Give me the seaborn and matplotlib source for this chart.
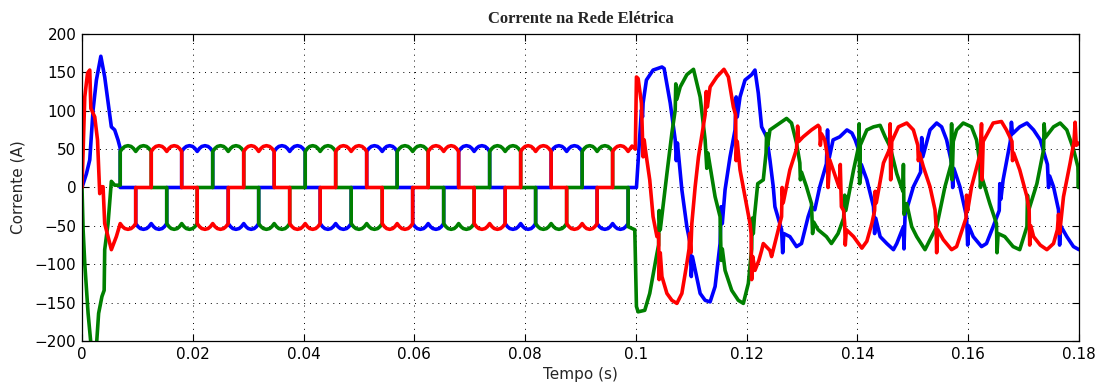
import matplotlib
matplotlib.use("Agg")
import matplotlib.pyplot as plt
import matplotlib.ticker as mticker
import numpy as np
import pandas as pd
import seaborn as sns

# ---------------- data (time in ms, current in A) ----------------
# start-up transient
B_START = [(0, 0), (0.8, 18), (1.4, 36), (2.0, 101), (2.6, 140), (3.4, 171), (4.1, 144),
           (5.3, 79), (5.9, 75), (6.5, 62), (6.9, 51)]
G_START = [(0, 0), (0.2, -55), (0.5, -99), (1.1, -164), (1.6, -203), (2.0, -215), (2.6, -207),
           (3.0, -164), (3.6, -142), (4.0, -134), (4.1, -81), (4.7, -47), (5.3, 8), (5.9, 3), (6.9, 3)]
R_START = [(0, 0), (0.5, 118), (1.0, 149), (1.4, 153), (1.6, 103), (2.3, 92), (2.8, 62), (3.2, -8),
           (3.5, 1), (3.8, 1), (4.1, -47), (5.3, -81), (6.2, -64), (6.9, -47)]

# six-step steady state: commutation instants and level of each phase per 60-degree interval
EDGES = [6.9, 9.7, 12.5, 15.3, 18.0, 20.8, 23.6, 26.4, 29.2, 31.9, 34.7, 37.5, 40.3, 43.0,
         45.8, 48.6, 51.4, 54.2, 56.9, 59.7, 62.5, 65.3, 68.0, 70.8, 73.6, 76.4, 79.2, 81.9,
         84.7, 87.5, 90.3, 93.0, 95.8, 98.6]
LEVEL_B = [0, -1, -1, 0, 1, 1, 0, -1, -1, 0, 1, 1, 0, -1, -1, 0, 1, 1,
           0, -1, -1, 0, 1, 1, 0, -1, -1, 0, 1, 1, 0, -1, -1]
LEVEL_G = [1, 1, 0, -1, -1, 0, 1, 1, 0, -1, -1, 0, 1, 1, 0, -1, -1, 0,
           1, 1, 0, -1, -1, 0, 1, 1, 0, -1, -1, 0, 1, 1, 0]
LEVEL_R = [-1, 0, 1, 1, 0, -1, -1, 0, 1, 1, 0, -1, -1, 0, 1, 1, 0, -1,
           -1, 0, 1, 1, 0, -1, -1, 0, 1, 1, 0, -1, -1, 0, 1]
# ripple of a conducting interval (fraction of interval, magnitude in A)
RIPPLE_FRAC = [0.0, 0.15, 0.3, 0.5, 0.7, 0.85, 1.0]
RIPPLE_AMP = [47, 51, 53.5, 54.5, 53.5, 51, 47]

# fault / reconfiguration transient after 0.1 s
B_END = [(98.6, 0), (100.1, 0), (101.0, 101), (101.2, 92), (101.3, 110), (101.9, 140), (103.1, 153),
         (104.7, 157), (105.1, 155), (106.2, 110), (107.1, 62), (107.3, 35), (107.5, 58), (108.3, -3),
         (109.2, -51), (109.8, -73), (110.0, -116), (110.2, -90), (110.7, -107), (111.6, -138),
         (112.5, -147), (113.4, -149), (114.3, -129), (115.2, -73), (115.4, -25), (115.6, -47),
         (116.1, -3), (117.0, 40), (117.9, 75), (118.1, 118), (118.3, 92), (118.8, 118), (119.7, 140),
         (120.9, 147), (121.5, 153), (122.1, 123), (122.7, 79), (123.6, 66), (124.2, 36), (124.8, 1),
         (125.1, -25), (126.3, -55), (126.5, -85), (126.7, -60), (127.8, -64), (129.0, -77),
         (129.9, -73), (131.1, -38), (131.7, -25), (132.3, -29), (133.2, 1), (134.4, 31), (134.6, 75),
         (134.8, 35), (135.6, 62), (136.8, 66), (138.1, 75), (139.0, 71), (139.6, 62), (140.4, 45),
         (140.5, 10), (140.7, 30), (141.7, 10), (142.9, -25), (143.1, -60), (143.3, -40), (144.1, -64),
         (145.3, -73), (146.5, -81), (147.1, -73), (148.3, -51), (148.4, -80), (148.6, -35),
         (149.2, -21), (150.1, 1), (151.4, 20), (151.6, 65), (151.8, 40), (153.1, 75), (154.3, 84),
         (155.2, 79), (156.1, 62), (157.0, 32), (157.2, 0), (157.4, 25), (158.5, 1), (159.7, -38),
         (159.9, -75), (160.1, -50), (160.9, -64), (162.4, -77), (163.3, -73), (164.5, -51),
         (165.6, -30), (165.7, 5), (165.9, -15), (166.3, 10), (167.6, 60), (167.8, 85), (168.0, 70),
         (169.3, 79), (170.6, 84), (171.8, 75), (173.0, 62), (174.3, 30), (174.5, 0), (174.7, 15),
         (175.4, 1), (176.3, -29), (176.5, -75), (176.7, -50), (177.8, -64), (179.0, -77), (180.0, -81)]
G_END = [(98.6, -51), (99.8, -55), (100.1, -155), (100.4, -162), (101.6, -160), (102.5, -138),
         (103.8, -86), (104.1, -75), (104.2, -30), (104.4, -55), (105.6, 18), (106.5, 71), (107.1, 101),
         (107.2, 135), (107.4, 115), (108.0, 131), (109.2, 147), (110.4, 154), (111.6, 118), (112.5, 62),
         (112.8, 25), (113.0, 45), (114.3, -12), (115.2, -38), (115.4, -95), (115.6, -80), (116.1, -108),
         (117.3, -134), (118.5, -147), (119.4, -151), (120.3, -125), (120.9, -80), (121.0, -40),
         (121.2, -60), (121.4, -38), (122.0, 5), (123.0, 10), (123.5, 45), (123.6, 70), (123.8, 55),
         (124.2, 75), (126.0, 84), (127.2, 90), (128.1, 84), (129.0, 58), (129.6, 32), (129.7, 10),
         (129.9, 20), (130.8, 1), (131.7, -21), (131.9, -60), (132.1, -45), (132.9, -55), (134.4, -64),
         (135.3, -73), (136.5, -60), (137.5, -40), (137.7, -10), (137.9, -30), (139.3, 23), (140.2, 53),
         (140.3, 83), (140.4, 5), (140.5, 55), (141.7, 75), (142.9, 79), (144.1, 81), (145.0, 66),
         (145.9, 53), (147.1, 18), (148.2, -5), (148.3, 30), (148.4, -35), (148.9, -21), (149.8, -51),
         (150.7, -64), (152.2, -81), (153.1, -68), (154.3, -51), (155.8, 1), (156.9, 30), (157.0, 83),
         (157.1, 10), (157.3, 60), (157.9, 75), (159.1, 84), (160.6, 79), (161.5, 62), (162.1, 32),
         (162.2, 0), (162.4, 15), (163.9, -21), (165.1, -47), (165.2, -85), (165.4, -60), (166.6, -64),
         (168.1, -77), (169.3, -81), (170.6, -51), (170.7, -10), (170.9, -30), (172.4, 5), (173.6, 49),
         (173.7, 83), (173.9, 65), (175.4, 79), (176.6, 84), (177.8, 75), (179.0, 50), (179.8, 27),
         (179.9, 0), (180.0, 27)]
R_END = [(99.3, 54), (99.9, 50), (100.1, 144), (100.4, 142), (101.0, 110), (101.3, 40), (101.5, 62),
         (101.7, 50), (102.5, 10), (103.1, -38), (103.8, -64), (104.1, -60), (104.2, -120), (104.4, -85),
         (104.7, -116), (105.6, -138), (106.5, -147), (107.4, -151), (108.3, -138), (109.2, -99),
         (109.6, -80), (109.7, -60), (109.9, -85), (110.1, -47), (110.7, 1), (111.3, 40), (112.5, 95),
         (112.7, 125), (112.9, 105), (113.4, 131), (114.6, 144), (115.9, 154), (116.7, 144), (117.6, 105),
         (118.0, 95), (118.1, 35), (118.3, 60), (118.8, 23), (119.7, -12), (120.6, -47), (120.8, -60),
         (120.9, -120), (121.1, -90), (121.5, -108), (122.2, -95), (122.7, -82), (123.0, -73),
         (124.2, -82), (124.5, -90), (125.4, -64), (126.3, -38), (126.4, 0), (126.6, -20), (127.8, 23),
         (129.0, 50), (129.2, 80), (129.4, 60), (130.2, 66), (131.7, 75), (132.9, 81), (133.2, 78),
         (133.3, 55), (133.5, 70), (134.1, 62), (134.6, 40), (134.7, 0), (134.9, 25), (135.0, 36),
         (136.7, 0), (136.9, 30), (137.1, -25), (137.5, -30), (137.7, -47), (137.8, -75), (138.0, -55),
         (139.3, -64), (140.8, -79), (141.7, -70), (142.6, -47), (143.1, -30), (143.2, -5), (143.4, -20),
         (144.7, 32), (145.8, 50), (145.9, 83), (146.0, 10), (146.2, 60), (147.4, 79), (148.9, 84),
         (150.1, 75), (150.9, 55), (151.0, 35), (151.2, 45), (151.9, 27), (153.1, 1), (154.0, -29),
         (154.2, -50), (154.3, -85), (154.5, -55), (155.5, -68), (157.0, -81), (157.9, -77), (159.1, -51),
         (159.6, -40), (159.7, -10), (159.9, -30), (160.6, 1), (162.2, 45), (162.4, 83), (162.5, 10),
         (162.7, 60), (164.5, 84), (166.0, 86), (166.9, 75), (167.9, 60), (168.0, 35), (168.2, 45),
         (169.3, 23), (170.6, -12), (171.0, -30), (171.1, -75), (171.3, -50), (171.8, -64), (173.0, -75),
         (174.2, -81), (175.4, -73), (176.1, -55), (176.3, -35), (176.5, -60), (177.2, -12), (178.4, 32),
         (179.1, 60), (179.3, 85), (179.5, 55), (180.0, 58)]

PHASES = ["a", "b", "c"]
COLORS = {"a": "#0000ff", "b": "#008000", "c": "#ff0000"}


def build(start, levels, end):
    t = [p[0] for p in start]
    y = [p[1] for p in start]
    for k, lev in enumerate(levels):
        a, b = EDGES[k], EDGES[k + 1]
        if lev == 0:
            t += [a, b]
            y += [0, 0]
        else:
            for f, r in zip(RIPPLE_FRAC, RIPPLE_AMP):
                t.append(a + f * (b - a))
                y.append(lev * r)
    t += [p[0] for p in end]
    y += [p[1] for p in end]
    return t, y


frames = []
for name, (st, lv, en) in zip(PHASES, [(B_START, LEVEL_B, B_END),
                                         (G_START, LEVEL_G, G_END),
                                         (R_START, LEVEL_R, R_END)]):
    t, y = build(st, lv, en)
    frames.append(pd.DataFrame({"t": np.array(t) / 1000.0, "i": y, "phase": name}))
df = pd.concat(frames, ignore_index=True)

# ---------------- figure ----------------
sns.set_style("ticks")
plt.rcParams["font.family"] = ["DejaVu Sans"]

fig = plt.figure(figsize=(11.06, 3.85), dpi=100)
ax = fig.add_axes([82 / 1106, 1 - 341 / 385, 997 / 1106, 307 / 385])

sns.lineplot(data=df, x="t", y="i", hue="phase", hue_order=PHASES, palette=COLORS,
             units="phase", estimator=None, sort=False, legend=False, linewidth=2.6, ax=ax)

ax.set_xlim(0, 0.18)
ax.set_ylim(-200, 200)
ax.set_xticks(np.arange(0, 0.1801, 0.02))
ax.set_yticks(np.arange(-200, 201, 50))
ax.xaxis.set_major_formatter(mticker.FuncFormatter(lambda v, p: ("%g" % round(v, 4))))
ax.yaxis.set_major_formatter(mticker.FuncFormatter(lambda v, p: ("%g" % v).replace("-", "\u2212")))
ax.grid(True, color="black", linestyle=(0, (1, 5)), linewidth=0.7)
ax.tick_params(direction="in", top=True, right=True, length=5, width=0.8,
               labelsize=11, colors="black", pad=4)
for s in ax.spines.values():
    s.set_visible(True)
    s.set_linewidth(0.9)
    s.set_color("black")

ax.set_xlabel("Tempo (s)", fontsize=11, labelpad=4)
ax.set_ylabel("Corrente (A)", fontsize=11, labelpad=7)
ax.set_title("Corrente na Rede Elétrica", fontfamily="Liberation Serif",
             fontweight="bold", fontsize=12, pad=8)

fig.savefig("out.png", dpi=100)
